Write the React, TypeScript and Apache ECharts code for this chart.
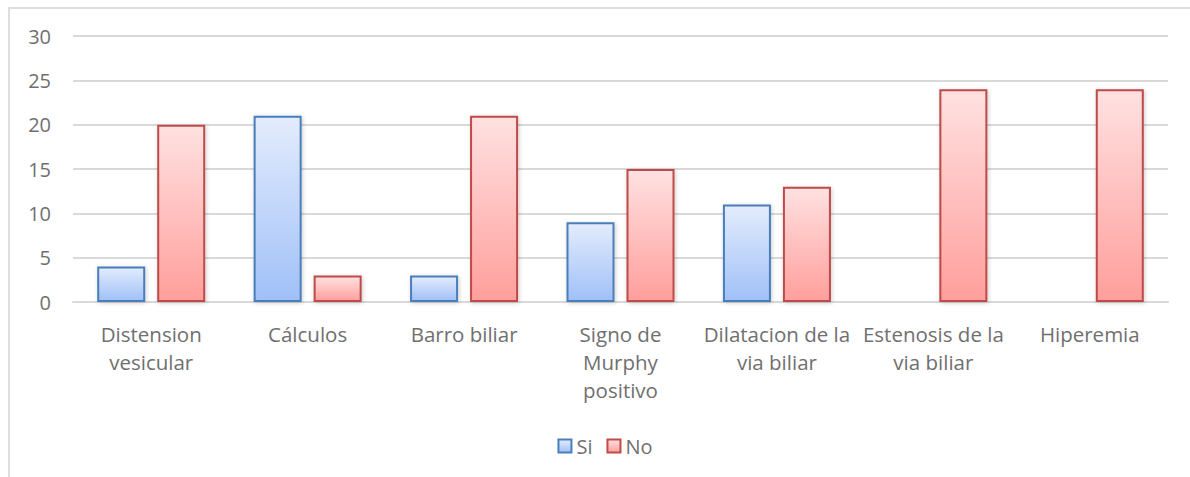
import React, { useEffect, useRef } from "react";
import * as echarts from "echarts";

const categories = [
  "Distension\nvesicular",
  "Cálculos",
  "Barro biliar",
  "Signo de\nMurphy\npositivo",
  "Dilatacion de la\nvia biliar",
  "Estenosis de la\nvia biliar",
  "Hiperemia",
];
const siValues = [4, 21, 3, 9, 11, 0, 0];
const noValues = [20, 3, 21, 15, 13, 24, 24];
const yTicks = { min: 0, max: 30, interval: 5 };

const FONT = "'Open Sans', 'Noto Sans', sans-serif";
const TEXT = "#6f6f6f";

export default function App() {
  const ref = useRef<HTMLDivElement>(null);
  useEffect(() => {
    if (!ref.current) return;
    const chart = echarts.init(ref.current, undefined, { renderer: "svg" });
    const grad = (top: string, bottom: string) =>
      new echarts.graphic.LinearGradient(0, 0, 0, 1, [
        { offset: 0, color: top },
        { offset: 1, color: bottom },
      ]);
    chart.setOption({
      animation: false,
      backgroundColor: "#ffffff",
      textStyle: { fontFamily: FONT },
      grid: { left: 63, top: 27, width: 1095, height: 266 },
      legend: {
        bottom: 18,
        left: "center",
        icon: "rect",
        itemWidth: 13,
        itemHeight: 13,
        itemGap: 14,
        textStyle: { fontFamily: FONT, fontSize: 20, color: TEXT },
        data: ["Si", "No"],
      },
      xAxis: {
        type: "category",
        data: categories,
        axisLine: { lineStyle: { color: "#d9d9d9", width: 2 } },
        axisTick: { show: false },
        axisLabel: {
          interval: 0,
          margin: 18,
          fontFamily: FONT,
          fontSize: 20.5,
          lineHeight: 28,
          color: TEXT,
        },
      },
      yAxis: {
        type: "value",
        min: yTicks.min,
        max: yTicks.max,
        interval: yTicks.interval,
        axisLine: { show: false },
        axisTick: { show: false },
        splitLine: { lineStyle: { color: "#d9d9d9", width: 2 } },
        axisLabel: { margin: 22, fontFamily: FONT, fontSize: 20, color: TEXT },
      },
      series: [
        {
          name: "Si",
          type: "bar",
          data: siValues.map((v) => (v === 0 ? null : v)),
          barWidth: 48,
          barGap: "25%",
          itemStyle: {
            color: grad("#e3ecfc", "#a0c0f8"),
            borderColor: "#4a7ebb",
            borderWidth: 2,
            shadowBlur: 4,
            shadowColor: "rgba(0,0,0,0.2)",
            shadowOffsetX: 1,
            shadowOffsetY: 1,
          },
        },
        {
          name: "No",
          type: "bar",
          data: noValues,
          barWidth: 48,
          barGap: "25%",
          itemStyle: {
            color: grad("#ffe1e1", "#ff9f9c"),
            borderColor: "#be4b48",
            borderWidth: 2,
            shadowBlur: 4,
            shadowColor: "rgba(0,0,0,0.2)",
            shadowOffsetX: 1,
            shadowOffsetY: 1,
          },
        },
      ],
    });
    return () => chart.dispose();
  }, []);
  return (
    <div
      style={{
        position: "absolute",
        left: 8,
        top: 7,
        width: 1200,
        height: 480,
        border: "2px solid #dedede",
        background: "#fff",
      }}
    >
      <div ref={ref} style={{ width: 1190, height: 470 }} />
    </div>
  );
}
